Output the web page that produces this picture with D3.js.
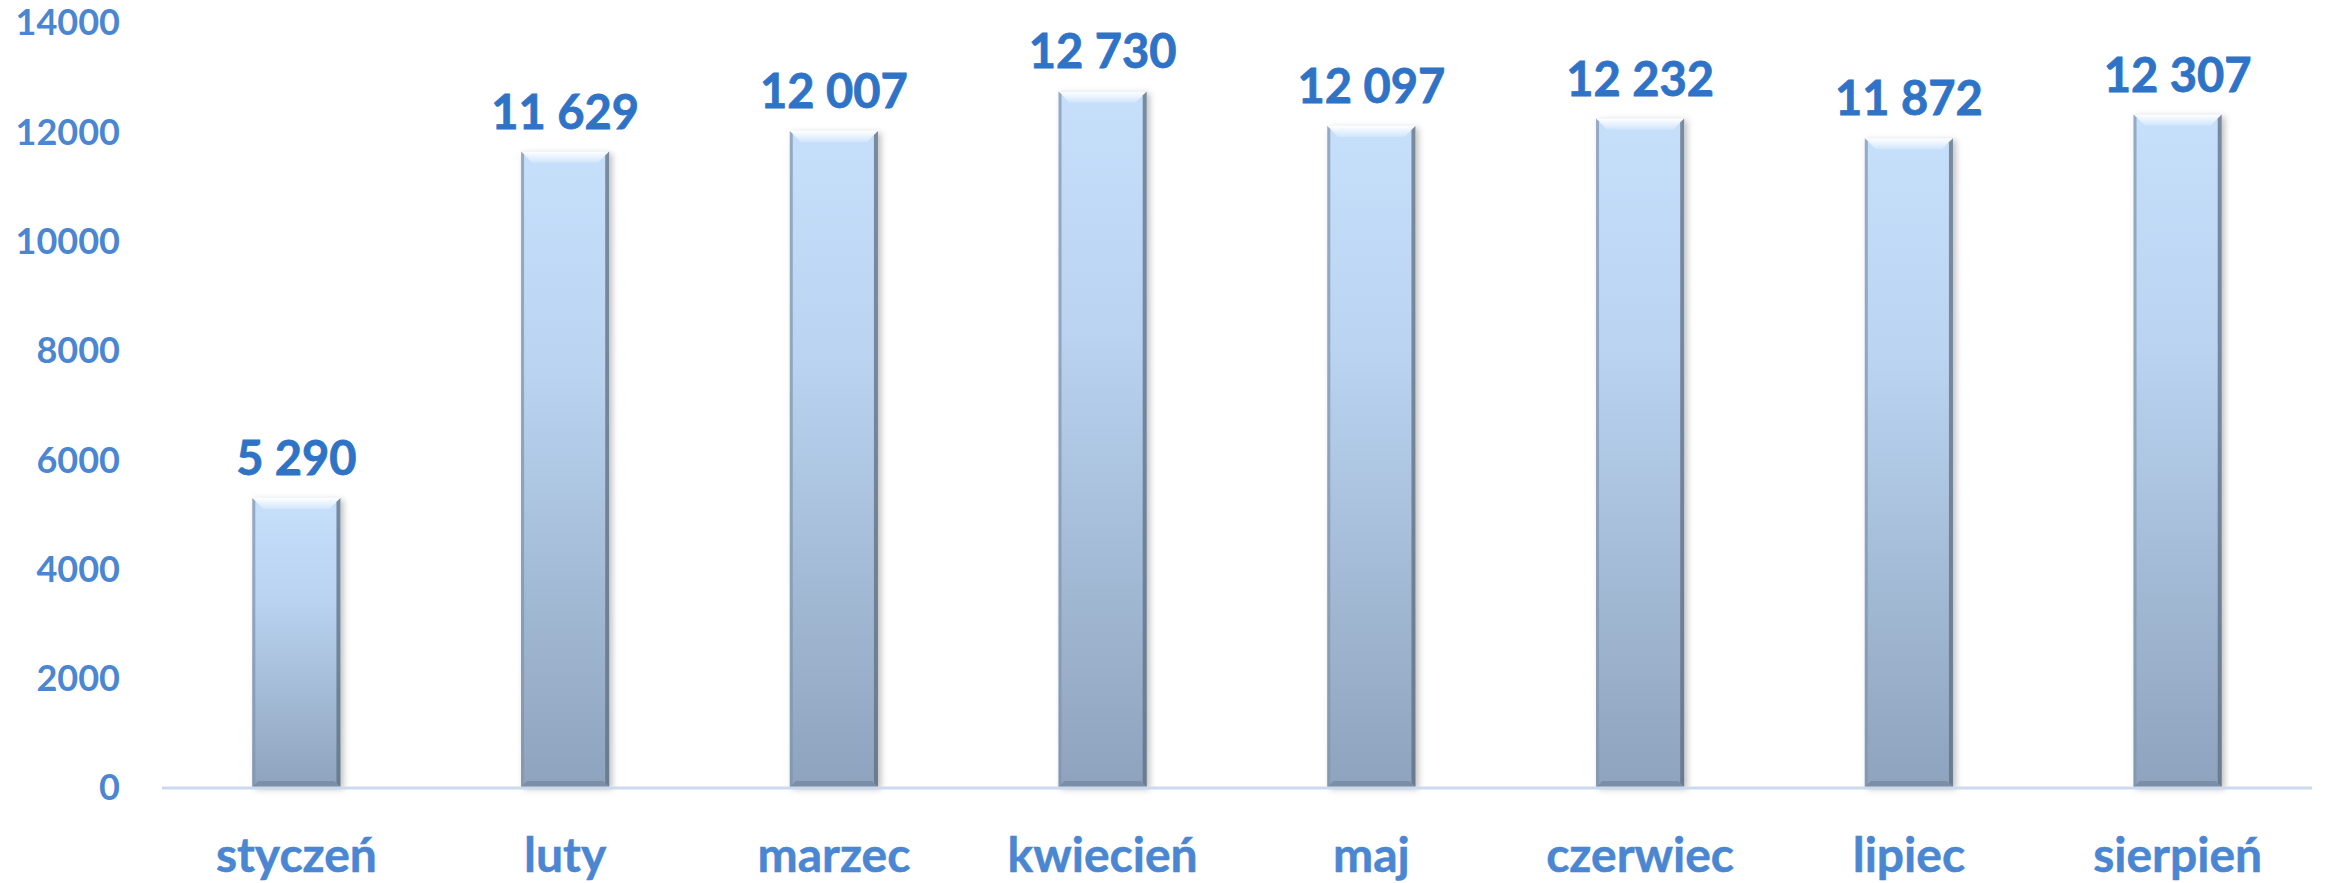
<!DOCTYPE html>
<html>
<head>
<meta charset="utf-8">
<script src="https://cdn.jsdelivr.net/npm/d3@7"></script>
<style>
  html, body { margin: 0; padding: 0; background: #fff; }
  svg { display: block; font-family: Lato, "Open Sans", sans-serif; font-weight: bold; }
</style>
</head>
<body>
<div id="chart"></div>
<script>
const months = ["styczeń", "luty", "marzec", "kwiecień", "maj", "czerwiec", "lipiec", "sierpień"];
const values = [5290, 11629, 12007, 12730, 12097, 12232, 11872, 12307];
const yTicks = [0, 2000, 4000, 6000, 8000, 10000, 12000, 14000];

const width = 2325, height = 883;
const margin = { top: 22, right: 13, bottom: 96, left: 162 };

const svg = d3.select("#chart").append("svg")
  .attr("width", width)
  .attr("height", height);

const defs = svg.append("defs");

const barGrad = defs.append("linearGradient")
  .attr("id", "barGrad")
  .attr("x1", 0).attr("y1", 0).attr("x2", 0).attr("y2", 1);
barGrad.append("stop").attr("offset", "0%").attr("stop-color", "#c6e0fc");
barGrad.append("stop").attr("offset", "35%").attr("stop-color", "#b9d3f0");
barGrad.append("stop").attr("offset", "100%").attr("stop-color", "#8ea3bd");

const bevelGrad = defs.append("linearGradient")
  .attr("id", "bevelGrad")
  .attr("x1", 0).attr("y1", 0).attr("x2", 0).attr("y2", 1);
bevelGrad.append("stop").attr("offset", "0%").attr("stop-color", "#ffffff").attr("stop-opacity", 1);
bevelGrad.append("stop").attr("offset", "100%").attr("stop-color", "#ffffff").attr("stop-opacity", 0.2);

const shadow = defs.append("filter").attr("id", "shadow")
  .attr("x", "-20%").attr("y", "-5%").attr("width", "140%").attr("height", "110%");
shadow.append("feDropShadow")
  .attr("dx", 3).attr("dy", 2).attr("stdDeviation", 3)
  .attr("flood-color", "#000").attr("flood-opacity", 0.25);

const x = d3.scaleBand()
  .domain(months)
  .range([margin.left, width - margin.right])
  .paddingInner(0.672)
  .paddingOuter(0.336);

const y = d3.scaleLinear()
  .domain([0, 14000])
  .range([height - margin.bottom, margin.top]);

// y axis labels
const yAxis = svg.append("g")
  .attr("transform", `translate(120,0)`)
  .call(d3.axisLeft(y).tickValues(yTicks).tickSize(0).tickPadding(0).tickFormat(d3.format("d")));
yAxis.select(".domain").remove();
yAxis.selectAll("text")
  .attr("fill", "#4a86d1")
  .attr("font-size", 36)
  .attr("font-family", "Lato, sans-serif")
  .attr("font-weight", "bold")
  .attr("dy", "0.36em");

// bars
const bars = svg.append("g").selectAll("g")
  .data(values)
  .join("g")
  .attr("transform", (d, i) => `translate(${x(months[i])},${y(d)})`);

const bw = x.bandwidth();
const bh = d => y(0) - y(d);

bars.append("rect")
  .attr("width", bw)
  .attr("height", d => bh(d))
  .attr("fill", "url(#barGrad)")
  .attr("filter", "url(#shadow)");

// bevel edges
bars.append("path")
  .attr("d", `M0,0 L${bw},0 L${bw - 11},11 L11,11 Z`)
  .attr("fill", "url(#bevelGrad)");
bars.append("path")
  .attr("d", d => `M${bw},0 L${bw},${bh(d)} L${bw - 4},${bh(d) - 4} L${bw - 4},4 Z`)
  .attr("fill", "#5f6d80")
  .attr("opacity", 0.75);
bars.append("path")
  .attr("d", d => `M0,0 L0,${bh(d)} L3,${bh(d) - 3} L3,3 Z`)
  .attr("fill", "#7f93ad")
  .attr("opacity", 0.7);
bars.append("path")
  .attr("d", d => `M0,${bh(d)} L${bw},${bh(d)} L${bw - 6},${bh(d) - 6} L6,${bh(d) - 6} Z`)
  .attr("fill", "#6d7d92")
  .attr("opacity", 0.55);

// baseline
svg.append("line")
  .attr("x1", margin.left)
  .attr("x2", width - margin.right)
  .attr("y1", y(0) + 1)
  .attr("y2", y(0) + 1)
  .attr("stroke", "#cbdaee")
  .attr("stroke-width", 3);

// value labels
const fmt = v => d3.format(",")(v).replace(/,/g, " ");
svg.append("g").selectAll("text")
  .data(values)
  .join("text")
  .attr("x", (d, i) => x(months[i]) + bw / 2)
  .attr("y", d => y(d) - 23)
  .attr("text-anchor", "middle")
  .attr("fill", "#2f73c6")
  .attr("stroke", "#2f73c6")
  .attr("stroke-width", 0.8)
  .attr("font-size", 47)
  .text(d => fmt(d));

// x labels
const xAxis = svg.append("g")
  .attr("transform", `translate(0,${y(0)})`)
  .call(d3.axisBottom(x).tickSize(0).tickPadding(0));
xAxis.select(".domain").remove();
xAxis.selectAll("text")
  .attr("fill", "#4a86d1")
  .attr("stroke", "#4a86d1")
  .attr("stroke-width", 0.5)
  .attr("font-size", 48)
  .attr("font-family", "Lato, sans-serif")
  .attr("font-weight", "bold")
  .attr("dy", 0)
  .attr("y", 85);
</script>
</body>
</html>
